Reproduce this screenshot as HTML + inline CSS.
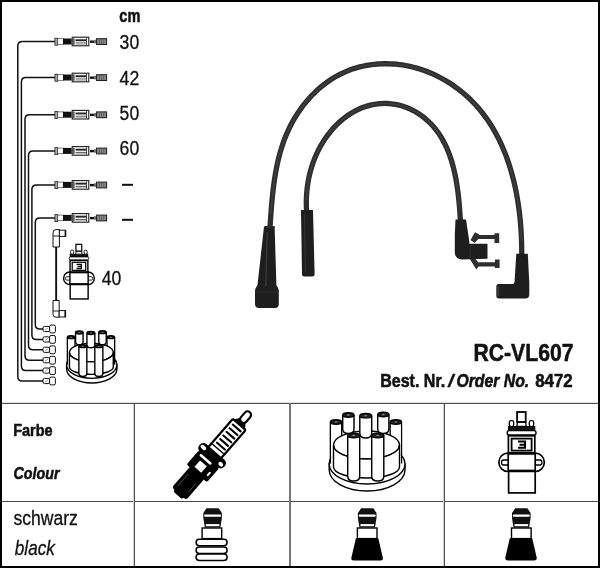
<!DOCTYPE html>
<html><head><meta charset="utf-8"><style>
html,body{margin:0;padding:0;background:#fff;width:600px;height:568px;overflow:hidden}
text{font-family:"Liberation Sans",sans-serif}
</style></head><body>
<svg width="600" height="568" viewBox="0 0 600 568" style="display:block;will-change:transform;font-family:'Liberation Sans', sans-serif"><rect x="0" y="0" width="600" height="568" fill="#fff"/>
<rect x="1" y="1" width="598" height="566" fill="none" stroke="#000" stroke-width="2"/>
<rect x="2" y="402" width="596" height="1" fill="#e0e0e0"/>
<rect x="2" y="403" width="596" height="1" fill="#4d4d4d"/>
<rect x="2" y="501" width="596" height="1" fill="#4a4a4a"/>
<rect x="133" y="404" width="1" height="162" fill="#d0d0d0"/>
<rect x="134" y="403" width="1" height="163" fill="#505050"/>
<rect x="289" y="403" width="2" height="163" fill="#777"/>
<rect x="443" y="404" width="1" height="162" fill="#d0d0d0"/>
<rect x="444" y="403" width="1" height="163" fill="#505050"/>
<text x="119.30" y="22.00" font-size="17.50" font-weight="bold" font-style="normal" fill="#111" textLength="21.00" lengthAdjust="spacingAndGlyphs" stroke="#111" stroke-width="0.55" stroke-linejoin="round" >cm</text>
<text x="119.60" y="49.00" font-size="20.00" font-weight="normal" font-style="normal" fill="#111" textLength="19.60" lengthAdjust="spacingAndGlyphs" stroke="#111" stroke-width="0.30" stroke-linejoin="round" >30</text>
<text x="119.60" y="84.60" font-size="20.00" font-weight="normal" font-style="normal" fill="#111" textLength="19.60" lengthAdjust="spacingAndGlyphs" stroke="#111" stroke-width="0.30" stroke-linejoin="round" >42</text>
<text x="119.60" y="120.00" font-size="20.00" font-weight="normal" font-style="normal" fill="#111" textLength="19.60" lengthAdjust="spacingAndGlyphs" stroke="#111" stroke-width="0.30" stroke-linejoin="round" >50</text>
<text x="119.60" y="155.00" font-size="20.00" font-weight="normal" font-style="normal" fill="#111" textLength="19.60" lengthAdjust="spacingAndGlyphs" stroke="#111" stroke-width="0.30" stroke-linejoin="round" >60</text>
<text x="101.70" y="285.20" font-size="20.00" font-weight="normal" font-style="normal" fill="#111" textLength="19.60" lengthAdjust="spacingAndGlyphs" stroke="#111" stroke-width="0.30" stroke-linejoin="round" >40</text>
<rect x="122" y="183.8" width="11" height="2" fill="#111"/>
<rect x="122" y="218.8" width="11" height="2" fill="#111"/>
<text x="473.50" y="360.70" font-size="24.30" font-weight="bold" font-style="normal" fill="#111" textLength="100.00" lengthAdjust="spacingAndGlyphs" stroke="#111" stroke-width="0.55" stroke-linejoin="round" >RC-VL607</text>
<text x="380.20" y="386.70" font-size="17.70" font-weight="bold" font-style="normal" fill="#111" textLength="65.00" lengthAdjust="spacingAndGlyphs" stroke="#111" stroke-width="0.55" stroke-linejoin="round" >Best. Nr.</text>
<text x="448.20" y="387.20" font-size="19.00" font-weight="bold" font-style="italic" fill="#111" stroke="#111" stroke-width="0.55" stroke-linejoin="round" >/</text>
<text x="456.40" y="386.70" font-size="17.70" font-weight="bold" font-style="italic" fill="#111" textLength="72.80" lengthAdjust="spacingAndGlyphs" stroke="#111" stroke-width="0.55" stroke-linejoin="round" >Order No.</text>
<text x="535.20" y="386.70" font-size="17.70" font-weight="bold" font-style="normal" fill="#111" textLength="37.50" lengthAdjust="spacingAndGlyphs" stroke="#111" stroke-width="0.55" stroke-linejoin="round" >8472</text>
<text x="13.20" y="435.50" font-size="16.70" font-weight="bold" font-style="normal" fill="#111" textLength="39.50" lengthAdjust="spacingAndGlyphs" stroke="#111" stroke-width="0.55" stroke-linejoin="round" >Farbe</text>
<text x="13.50" y="479.30" font-size="16.70" font-weight="bold" font-style="italic" fill="#111" textLength="46.00" lengthAdjust="spacingAndGlyphs" stroke="#111" stroke-width="0.55" stroke-linejoin="round" >Colour</text>
<text x="13.40" y="524.60" font-size="20.00" font-weight="normal" font-style="normal" fill="#111" textLength="64.50" lengthAdjust="spacingAndGlyphs" stroke="#111" stroke-width="0.30" stroke-linejoin="round" >schwarz</text>
<text x="14.80" y="554.60" font-size="20.00" font-weight="normal" font-style="italic" fill="#111" textLength="40.00" lengthAdjust="spacingAndGlyphs" stroke="#111" stroke-width="0.30" stroke-linejoin="round" >black</text>
<path d="M 269.95 227.70 L 270.15 224.78 L 270.35 221.84 L 270.56 218.88 L 270.77 215.91 L 270.99 212.91 L 271.22 209.91 L 271.46 206.89 L 271.72 203.86 L 271.99 200.82 L 272.28 197.77 L 272.59 194.71 L 272.92 191.66 L 273.28 188.59 L 273.67 185.53 L 274.08 182.46 L 274.52 179.40 L 275.00 176.34 L 275.51 173.28 L 276.06 170.23 L 276.65 167.19 L 277.28 164.16 L 277.95 161.14 L 278.67 158.13 L 279.44 155.13 L 280.26 152.15 L 281.13 149.19 L 282.05 146.24 L 283.03 143.32 L 284.06 140.41 L 285.16 137.53 L 286.32 134.68 L 287.54 131.85 L 288.83 129.05 L 290.18 126.28 L 291.60 123.55 L 293.08 120.84 L 294.62 118.18 L 296.22 115.55 L 297.89 112.96 L 299.61 110.42 L 301.39 107.92 L 303.23 105.47 L 305.13 103.07 L 307.08 100.72 L 309.09 98.42 L 311.16 96.18 L 313.27 94.00 L 315.44 91.87 L 317.67 89.81 L 319.94 87.81 L 322.27 85.88 L 324.64 84.02 L 327.06 82.22 L 329.53 80.50 L 332.05 78.85 L 334.62 77.28 L 337.23 75.79 L 339.88 74.38 L 342.58 73.05 L 345.32 71.81 L 348.10 70.65 L 350.93 69.58 L 353.79 68.61 L 356.69 67.72 L 359.62 66.92 L 362.59 66.22 L 365.58 65.60 L 368.59 65.07 L 371.63 64.62 L 374.68 64.27 L 377.75 64.00 L 380.83 63.83 L 383.92 63.73 L 387.01 63.73 L 390.11 63.81 L 393.20 63.98 L 396.29 64.23 L 399.37 64.57 L 402.45 64.99 L 405.50 65.50 L 408.55 66.09 L 411.57 66.77 L 414.57 67.52 L 417.56 68.36 L 420.51 69.27 L 423.45 70.26 L 426.36 71.33 L 429.24 72.47 L 432.09 73.68 L 434.91 74.96 L 437.70 76.31 L 440.45 77.73 L 443.17 79.22 L 445.85 80.76 L 448.49 82.37 L 451.09 84.04 L 453.65 85.77 L 456.17 87.56 L 458.64 89.41 L 461.07 91.31 L 463.44 93.26 L 465.77 95.26 L 468.05 97.32 L 470.27 99.42 L 472.44 101.57 L 474.55 103.77 L 476.61 106.00 L 478.61 108.29 L 480.56 110.61 L 482.45 112.97 L 484.29 115.38 L 486.08 117.82 L 487.81 120.30 L 489.49 122.81 L 491.12 125.36 L 492.70 127.95 L 494.23 130.56 L 495.72 133.21 L 497.15 135.89 L 498.53 138.60 L 499.87 141.33 L 501.16 144.10 L 502.41 146.88 L 503.61 149.70 L 504.76 152.53 L 505.87 155.39 L 506.94 158.27 L 507.96 161.17 L 508.94 164.09 L 509.88 167.03 L 510.78 169.98 L 511.64 172.95 L 512.45 175.93 L 513.23 178.93 L 513.97 181.94 L 514.67 184.96 L 515.34 187.99 L 515.96 191.02 L 516.56 194.07 L 517.11 197.12 L 517.63 200.18 L 518.12 203.24 L 518.57 206.30 L 518.99 209.37 L 519.38 212.44 L 519.73 215.50 L 520.05 218.57 L 520.35 221.63 L 520.61 224.69 L 520.84 227.74 L 521.05 230.79 L 521.22 233.83 L 521.37 236.86 L 521.49 239.88 L 521.59 242.89 L 521.66 245.89 L 521.71 248.88 L 521.73 251.85 L 521.72 254.81" fill="none" stroke="#2d2d2d" stroke-width="5.3" stroke-linecap="round"/>
<path d="M 306.65 211.87 L 306.53 209.98 L 306.43 208.09 L 306.37 206.19 L 306.33 204.29 L 306.32 202.39 L 306.34 200.49 L 306.39 198.58 L 306.47 196.68 L 306.58 194.77 L 306.71 192.87 L 306.88 190.97 L 307.08 189.06 L 307.30 187.16 L 307.56 185.27 L 307.84 183.37 L 308.16 181.48 L 308.50 179.60 L 308.88 177.72 L 309.28 175.84 L 309.72 173.97 L 310.19 172.11 L 310.69 170.26 L 311.22 168.41 L 311.78 166.57 L 312.37 164.74 L 312.99 162.92 L 313.65 161.12 L 314.33 159.32 L 315.05 157.53 L 315.80 155.76 L 316.58 154.00 L 317.40 152.25 L 318.24 150.51 L 319.12 148.79 L 320.03 147.09 L 320.98 145.40 L 321.96 143.73 L 322.96 142.07 L 324.01 140.43 L 325.08 138.81 L 326.19 137.21 L 327.33 135.63 L 328.51 134.07 L 329.71 132.53 L 330.94 131.02 L 332.21 129.54 L 333.51 128.08 L 334.83 126.65 L 336.19 125.25 L 337.57 123.88 L 338.98 122.55 L 340.42 121.24 L 341.88 119.98 L 343.38 118.75 L 344.90 117.56 L 346.44 116.41 L 348.01 115.30 L 349.61 114.23 L 351.23 113.20 L 352.87 112.22 L 354.54 111.29 L 356.23 110.40 L 357.95 109.56 L 359.69 108.77 L 361.44 108.04 L 363.23 107.35 L 365.03 106.73 L 366.84 106.15 L 368.68 105.63 L 370.53 105.16 L 372.39 104.75 L 374.26 104.40 L 376.15 104.10 L 378.04 103.86 L 379.93 103.67 L 381.83 103.54 L 383.73 103.47 L 385.63 103.46 L 387.52 103.51 L 389.42 103.62 L 391.30 103.78 L 393.18 104.01 L 395.05 104.30 L 396.91 104.65 L 398.75 105.06 L 400.58 105.52 L 402.40 106.05 L 404.20 106.64 L 405.98 107.28 L 407.74 107.97 L 409.48 108.72 L 411.20 109.52 L 412.90 110.38 L 414.58 111.28 L 416.23 112.23 L 417.85 113.23 L 419.45 114.27 L 421.02 115.36 L 422.56 116.49 L 424.08 117.67 L 425.56 118.88 L 427.01 120.14 L 428.42 121.43 L 429.80 122.76 L 431.15 124.13 L 432.46 125.53 L 433.73 126.96 L 434.96 128.43 L 436.15 129.93 L 437.31 131.46 L 438.42 133.01 L 439.50 134.60 L 440.54 136.21 L 441.54 137.85 L 442.50 139.51 L 443.43 141.19 L 444.33 142.90 L 445.19 144.63 L 446.02 146.38 L 446.82 148.15 L 447.59 149.94 L 448.32 151.75 L 449.03 153.57 L 449.70 155.41 L 450.35 157.26 L 450.97 159.13 L 451.56 161.01 L 452.12 162.90 L 452.66 164.80 L 453.18 166.71 L 453.67 168.63 L 454.13 170.56 L 454.58 172.49 L 455.00 174.43 L 455.40 176.37 L 455.78 178.31 L 456.14 180.26 L 456.48 182.21 L 456.80 184.16 L 457.10 186.11 L 457.39 188.06 L 457.66 190.00 L 457.91 191.94 L 458.15 193.88 L 458.38 195.81 L 458.59 197.73 L 458.79 199.64 L 458.98 201.55 L 459.15 203.45 L 459.32 205.33 L 459.48 207.20 L 459.62 209.06 L 459.76 210.91 L 459.89 212.74 L 460.02 214.56 L 460.14 216.35 L 460.25 218.13 L 460.36 219.89 L 460.46 221.63" fill="none" stroke="#2d2d2d" stroke-width="5.3" stroke-linecap="round"/>
<path d="M 270.94 213.60 L 271.15 210.78 L 271.37 207.95 L 271.61 205.10 L 271.86 202.25 L 272.12 199.39 L 272.40 196.52 L 272.70 193.64 L 273.02 190.77 L 273.37 187.89 L 273.73 185.01 L 274.13 182.13 L 274.55 179.25 L 275.00 176.37 L 275.48 173.50 L 275.99 170.63 L 276.54 167.77 L 277.12 164.92 L 277.74 162.07 L 278.40 159.24 L 279.10 156.42 L 279.85 153.61 L 280.64 150.81 L 281.48 148.04 L 282.36 145.27 L 283.30 142.53 L 284.29 139.81 L 285.33 137.10 L 286.42 134.42 L 287.58 131.77 L 288.79 129.14 L 290.06 126.53 L 291.38 123.95 L 292.76 121.41 L 294.20 118.89 L 295.69 116.41 L 297.23 113.97 L 298.83 111.56 L 300.48 109.19 L 302.18 106.86 L 303.93 104.58 L 305.73 102.34 L 307.58 100.14 L 309.48 97.99 L 311.43 95.89 L 313.42 93.85 L 315.47 91.85 L 317.55 89.91 L 319.69 88.03 L 321.87 86.20 L 324.09 84.44 L 326.35 82.73 L 328.66 81.09 L 331.01 79.52 L 333.40 78.01 L 335.84 76.57 L 338.31 75.20 L 340.82 73.91 L 343.37 72.68 L 345.96 71.53 L 348.58 70.46 L 351.24 69.47 L 353.93 68.56 L 356.66 67.73 L 359.42 66.98 L 362.20 66.30 L 365.01 65.71 L 367.84 65.19 L 370.69 64.75 L 373.55 64.39 L 376.43 64.11 L 379.32 63.90 L 382.22 63.77 L 385.12 63.72 L 388.03 63.75 L 390.94 63.85 L 393.85 64.02 L 396.75 64.27 L 399.65 64.60 L 402.54 65.00 L 405.41 65.48 L 408.27 66.03 L 411.12 66.66 L 413.94 67.36 L 416.75 68.12 L 419.54 68.96 L 422.31 69.87 L 425.05 70.84 L 427.77 71.88 L 430.47 72.98 L 433.14 74.15 L 435.78 75.37 L 438.39 76.66 L 440.97 78.01 L 443.52 79.41 L 446.04 80.87 L 448.52 82.39 L 450.96 83.96 L 453.37 85.58 L 455.75 87.26 L 458.08 88.98 L 460.37 90.75 L 462.62 92.57 L 464.82 94.44 L 466.98 96.35 L 469.10 98.30 L 471.17 100.30 L 473.19 102.33 L 475.16 104.41 L 477.08 106.53 L 478.95 108.68 L 480.77 110.87 L 482.54 113.09 L 484.27 115.35 L 485.95 117.65 L 487.59 119.97 L 489.18 122.33 L 490.72 124.72 L 492.22 127.14 L 493.67 129.59 L 495.09 132.07 L 496.45 134.57 L 497.78 137.11 L 499.06 139.66 L 500.30 142.24 L 501.50 144.85 L 502.66 147.47 L 503.78 150.12 L 504.86 152.79 L 505.90 155.48 L 506.91 158.18 L 507.87 160.91 L 508.80 163.65 L 509.69 166.41 L 510.54 169.18 L 511.36 171.97 L 512.14 174.77 L 512.89 177.58 L 513.60 180.40 L 514.28 183.23 L 514.92 186.08 L 515.54 188.93 L 516.12 191.79 L 516.66 194.65 L 517.18 197.52 L 517.67 200.39 L 518.12 203.27 L 518.55 206.15 L 518.94 209.03 L 519.31 211.92 L 519.65 214.80 L 519.96 217.68 L 520.25 220.56 L 520.51 223.44 L 520.74 226.31 L 520.94 229.17 L 521.12 232.04 L 521.28 234.89 L 521.41 237.74 L 521.52 240.57" fill="none" stroke="#3e3e3e" stroke-width="1.6" stroke-linecap="round"/>
<path d="M 306.36 199.80 L 306.41 198.05 L 306.49 196.30 L 306.59 194.55 L 306.72 192.79 L 306.87 191.04 L 307.05 189.29 L 307.25 187.54 L 307.48 185.80 L 307.74 184.05 L 308.01 182.31 L 308.32 180.58 L 308.65 178.84 L 309.01 177.11 L 309.39 175.39 L 309.79 173.67 L 310.23 171.96 L 310.69 170.26 L 311.17 168.56 L 311.69 166.86 L 312.22 165.18 L 312.79 163.50 L 313.38 161.84 L 314.00 160.18 L 314.65 158.53 L 315.32 156.89 L 316.02 155.26 L 316.74 153.65 L 317.50 152.04 L 318.28 150.44 L 319.09 148.86 L 319.92 147.29 L 320.79 145.74 L 321.68 144.19 L 322.60 142.66 L 323.54 141.15 L 324.52 139.65 L 325.52 138.17 L 326.55 136.70 L 327.61 135.25 L 328.70 133.82 L 329.81 132.41 L 330.94 131.02 L 332.11 129.65 L 333.30 128.31 L 334.51 126.99 L 335.75 125.69 L 337.01 124.42 L 338.30 123.18 L 339.61 121.97 L 340.94 120.78 L 342.30 119.63 L 343.68 118.51 L 345.08 117.42 L 346.50 116.36 L 347.95 115.34 L 349.42 114.35 L 350.90 113.40 L 352.41 112.49 L 353.94 111.62 L 355.49 110.78 L 357.05 109.99 L 358.64 109.24 L 360.25 108.53 L 361.87 107.87 L 363.51 107.25 L 365.17 106.68 L 366.84 106.15 L 368.53 105.67 L 370.23 105.23 L 371.94 104.85 L 373.66 104.50 L 375.39 104.21 L 377.13 103.97 L 378.87 103.77 L 380.61 103.62 L 382.36 103.52 L 384.11 103.47 L 385.85 103.47 L 387.60 103.51 L 389.34 103.61 L 391.08 103.76 L 392.81 103.96 L 394.53 104.21 L 396.24 104.51 L 397.94 104.87 L 399.63 105.27 L 401.31 105.73 L 402.98 106.23 L 404.63 106.79 L 406.26 107.38 L 407.88 108.03 L 409.48 108.72 L 411.07 109.46 L 412.63 110.24 L 414.18 111.06 L 415.70 111.92 L 417.20 112.82 L 418.69 113.76 L 420.15 114.74 L 421.58 115.76 L 422.99 116.82 L 424.37 117.91 L 425.73 119.03 L 427.06 120.19 L 428.37 121.38 L 429.64 122.60 L 430.88 123.85 L 432.09 125.13 L 433.28 126.44 L 434.42 127.78 L 435.54 129.15 L 436.62 130.54 L 437.67 131.95 L 438.68 133.39 L 439.67 134.85 L 440.62 136.34 L 441.54 137.85 L 442.43 139.37 L 443.29 140.92 L 444.12 142.49 L 444.92 144.08 L 445.70 145.68 L 446.44 147.30 L 447.16 148.94 L 447.85 150.59 L 448.52 152.26 L 449.16 153.94 L 449.78 155.63 L 450.37 157.34 L 450.94 159.05 L 451.49 160.78 L 452.01 162.52 L 452.51 164.27 L 452.99 166.02 L 453.45 167.78 L 453.89 169.55 L 454.31 171.33 L 454.71 173.11 L 455.10 174.89 L 455.46 176.68 L 455.81 178.47 L 456.14 180.26 L 456.45 182.06 L 456.75 183.85 L 457.03 185.64 L 457.30 187.43 L 457.55 189.22 L 457.79 191.01 L 458.02 192.79 L 458.24 194.57 L 458.44 196.35 L 458.63 198.11 L 458.81 199.87 L 458.99 201.63 L 459.15 203.37 L 459.30 205.11 L 459.45 206.83 L 459.58 208.54 L 459.71 210.25" fill="none" stroke="#3e3e3e" stroke-width="1.6" stroke-linecap="round"/>
<path d="M 264 226.5 L 274.6 226.5 L 276.4 285 C 277.5 287 278.8 288.5 278.8 291 L 278.8 304 Q 278.8 308 275 308 L 259 308 Q 255 308 255 304 L 255 291 C 255 288.5 256.5 287 257.5 285 Z" fill="#1e1e1e"/>
<path d="M 267.2 232 L 265.8 286" stroke="#3c3c3c" stroke-width="1.2" fill="none"/>
<rect x="264.5" y="226" width="10" height="2" fill="#2a2a2a"/>
<path d="M 255.5 292 L 278.3 292" stroke="#333" stroke-width="0.8" fill="none"/>
<path d="M 301 210 L 313 210 L 314.6 274 Q 314.6 276.5 312 276.5 L 304.5 276.5 Q 302 276.5 302 274 Z" fill="#1e1e1e"/>
<path d="M 304.5 214 L 305.3 272" stroke="#333" stroke-width="1" fill="none"/>
<path d="M 470.5 240 L 475 232.2 L 478.8 234.2 L 478.8 235 L 494.5 235 L 494.5 233.3 L 499.2 233.3 L 499.2 243 L 494.5 243 L 494.5 239 L 478.5 239 L 474.5 243 Z" fill="#2e2e2e"/>
<path d="M 469.5 258.5 L 476.4 269.6 L 478.5 266.4 L 494.9 266.4 L 494.9 268 L 499.6 268 L 499.6 259.4 L 494.9 259.4 L 494.9 262.2 L 478 262.2 L 474.5 257.5 Z" fill="#2e2e2e"/>
<path d="M 455.5 219.6 L 466 219.6 L 468.8 238 L 469.5 243.8 L 487.5 243.8 L 487.5 258.8 L 462 259.4 Q 454.8 259.4 454.8 252 L 454.8 235 Z" fill="#1e1e1e"/>
<path d="M 470.2 245 L 470.2 258" stroke="#333" stroke-width="0.8" fill="none"/>
<path d="M 516.3 253.7 L 527.8 253.7 L 529.3 283 L 529.3 294.5 Q 529.3 298.4 525.5 298.4 L 498.5 298.4 Q 496.3 298.4 496.3 296 L 496.3 286.5 Q 496.3 284.1 498.5 284.1 L 512 284.1 Q 514.6 284.1 514.6 281 Z" fill="#1e1e1e"/>
<rect x="497.2" y="286" width="2" height="10.5" rx="1" fill="#3a3a3a"/>
<path d="M 55 41.60 H 22.30 Q 17.80 41.60 17.80 46.10 V 376.50 Q 17.80 381.00 22.30 381.00 H 43" fill="none" stroke="#111" stroke-width="1.5"/>
<path d="M 55 77.60 H 25.90 Q 21.40 77.60 21.40 82.10 V 366.10 Q 21.40 370.60 25.90 370.60 H 43" fill="none" stroke="#111" stroke-width="1.5"/>
<path d="M 55 114.80 H 29.50 Q 25.00 114.80 25.00 119.30 V 355.70 Q 25.00 360.20 29.50 360.20 H 43" fill="none" stroke="#111" stroke-width="1.5"/>
<path d="M 55 151.00 H 33.00 Q 28.50 151.00 28.50 155.50 V 345.30 Q 28.50 349.80 33.00 349.80 H 43" fill="none" stroke="#111" stroke-width="1.5"/>
<path d="M 55 185.00 H 36.40 Q 31.90 185.00 31.90 189.50 V 334.90 Q 31.90 339.40 36.40 339.40 H 43" fill="none" stroke="#111" stroke-width="1.5"/>
<path d="M 55 218.00 H 39.80 Q 35.30 218.00 35.30 222.50 V 324.50 Q 35.30 329.00 39.80 329.00 H 43" fill="none" stroke="#111" stroke-width="1.5"/>
<rect x="54.9" y="38.20" width="2.8" height="7" fill="#aaa" stroke="#222" stroke-width="0.8"/><rect x="57.7" y="38.70" width="5.6" height="5.6" fill="#fff" stroke="#444" stroke-width="0.7"/><rect x="63" y="38.50" width="8.6" height="6" fill="#111"/><rect x="72.2" y="37.20" width="16.6" height="8.6" fill="#fff" stroke="#1a1a1a" stroke-width="1.1"/><rect x="75.5" y="39.30" width="10.5" height="1.9" fill="#222"/><rect x="75.5" y="42.50" width="10.5" height="0.9" fill="#444"/><rect x="75.5" y="44.00" width="10.5" height="0.6" fill="#999"/><rect x="73.2" y="38.30" width="1.3" height="6.6" fill="#333"/><rect x="86.1" y="37.90" width="0.9" height="7.4" fill="#333"/><rect x="90" y="40.50" width="4.2" height="2.4" fill="#111"/><rect x="94.2" y="39.80" width="2.2" height="3.6" fill="#666"/><rect x="96.6" y="38.70" width="10" height="5.8" fill="#888" stroke="#1a1a1a" stroke-width="1"/><rect x="99.0" y="39.10" width="0.8" height="5" fill="#555"/><rect x="101.2" y="39.10" width="0.8" height="5" fill="#555"/><rect x="103.4" y="39.10" width="0.8" height="5" fill="#555"/>
<rect x="54.9" y="74.20" width="2.8" height="7" fill="#aaa" stroke="#222" stroke-width="0.8"/><rect x="57.7" y="74.70" width="5.6" height="5.6" fill="#fff" stroke="#444" stroke-width="0.7"/><rect x="63" y="74.50" width="8.6" height="6" fill="#111"/><rect x="72.2" y="73.20" width="16.6" height="8.6" fill="#fff" stroke="#1a1a1a" stroke-width="1.1"/><rect x="75.5" y="75.30" width="10.5" height="1.9" fill="#222"/><rect x="75.5" y="78.50" width="10.5" height="0.9" fill="#444"/><rect x="75.5" y="80.00" width="10.5" height="0.6" fill="#999"/><rect x="73.2" y="74.30" width="1.3" height="6.6" fill="#333"/><rect x="86.1" y="73.90" width="0.9" height="7.4" fill="#333"/><rect x="90" y="76.50" width="4.2" height="2.4" fill="#111"/><rect x="94.2" y="75.80" width="2.2" height="3.6" fill="#666"/><rect x="96.6" y="74.70" width="10" height="5.8" fill="#888" stroke="#1a1a1a" stroke-width="1"/><rect x="99.0" y="75.10" width="0.8" height="5" fill="#555"/><rect x="101.2" y="75.10" width="0.8" height="5" fill="#555"/><rect x="103.4" y="75.10" width="0.8" height="5" fill="#555"/>
<rect x="54.9" y="111.40" width="2.8" height="7" fill="#aaa" stroke="#222" stroke-width="0.8"/><rect x="57.7" y="111.90" width="5.6" height="5.6" fill="#fff" stroke="#444" stroke-width="0.7"/><rect x="63" y="111.70" width="8.6" height="6" fill="#111"/><rect x="72.2" y="110.40" width="16.6" height="8.6" fill="#fff" stroke="#1a1a1a" stroke-width="1.1"/><rect x="75.5" y="112.50" width="10.5" height="1.9" fill="#222"/><rect x="75.5" y="115.70" width="10.5" height="0.9" fill="#444"/><rect x="75.5" y="117.20" width="10.5" height="0.6" fill="#999"/><rect x="73.2" y="111.50" width="1.3" height="6.6" fill="#333"/><rect x="86.1" y="111.10" width="0.9" height="7.4" fill="#333"/><rect x="90" y="113.70" width="4.2" height="2.4" fill="#111"/><rect x="94.2" y="113.00" width="2.2" height="3.6" fill="#666"/><rect x="96.6" y="111.90" width="10" height="5.8" fill="#888" stroke="#1a1a1a" stroke-width="1"/><rect x="99.0" y="112.30" width="0.8" height="5" fill="#555"/><rect x="101.2" y="112.30" width="0.8" height="5" fill="#555"/><rect x="103.4" y="112.30" width="0.8" height="5" fill="#555"/>
<rect x="54.9" y="147.60" width="2.8" height="7" fill="#aaa" stroke="#222" stroke-width="0.8"/><rect x="57.7" y="148.10" width="5.6" height="5.6" fill="#fff" stroke="#444" stroke-width="0.7"/><rect x="63" y="147.90" width="8.6" height="6" fill="#111"/><rect x="72.2" y="146.60" width="16.6" height="8.6" fill="#fff" stroke="#1a1a1a" stroke-width="1.1"/><rect x="75.5" y="148.70" width="10.5" height="1.9" fill="#222"/><rect x="75.5" y="151.90" width="10.5" height="0.9" fill="#444"/><rect x="75.5" y="153.40" width="10.5" height="0.6" fill="#999"/><rect x="73.2" y="147.70" width="1.3" height="6.6" fill="#333"/><rect x="86.1" y="147.30" width="0.9" height="7.4" fill="#333"/><rect x="90" y="149.90" width="4.2" height="2.4" fill="#111"/><rect x="94.2" y="149.20" width="2.2" height="3.6" fill="#666"/><rect x="96.6" y="148.10" width="10" height="5.8" fill="#888" stroke="#1a1a1a" stroke-width="1"/><rect x="99.0" y="148.50" width="0.8" height="5" fill="#555"/><rect x="101.2" y="148.50" width="0.8" height="5" fill="#555"/><rect x="103.4" y="148.50" width="0.8" height="5" fill="#555"/>
<rect x="54.9" y="181.60" width="2.8" height="7" fill="#aaa" stroke="#222" stroke-width="0.8"/><rect x="57.7" y="182.10" width="5.6" height="5.6" fill="#fff" stroke="#444" stroke-width="0.7"/><rect x="63" y="181.90" width="8.6" height="6" fill="#111"/><rect x="72.2" y="180.60" width="16.6" height="8.6" fill="#fff" stroke="#1a1a1a" stroke-width="1.1"/><rect x="75.5" y="182.70" width="10.5" height="1.9" fill="#222"/><rect x="75.5" y="185.90" width="10.5" height="0.9" fill="#444"/><rect x="75.5" y="187.40" width="10.5" height="0.6" fill="#999"/><rect x="73.2" y="181.70" width="1.3" height="6.6" fill="#333"/><rect x="86.1" y="181.30" width="0.9" height="7.4" fill="#333"/><rect x="90" y="183.90" width="4.2" height="2.4" fill="#111"/><rect x="94.2" y="183.20" width="2.2" height="3.6" fill="#666"/><rect x="96.6" y="182.10" width="10" height="5.8" fill="#888" stroke="#1a1a1a" stroke-width="1"/><rect x="99.0" y="182.50" width="0.8" height="5" fill="#555"/><rect x="101.2" y="182.50" width="0.8" height="5" fill="#555"/><rect x="103.4" y="182.50" width="0.8" height="5" fill="#555"/>
<rect x="54.9" y="214.60" width="2.8" height="7" fill="#aaa" stroke="#222" stroke-width="0.8"/><rect x="57.7" y="215.10" width="5.6" height="5.6" fill="#fff" stroke="#444" stroke-width="0.7"/><rect x="63" y="214.90" width="8.6" height="6" fill="#111"/><rect x="72.2" y="213.60" width="16.6" height="8.6" fill="#fff" stroke="#1a1a1a" stroke-width="1.1"/><rect x="75.5" y="215.70" width="10.5" height="1.9" fill="#222"/><rect x="75.5" y="218.90" width="10.5" height="0.9" fill="#444"/><rect x="75.5" y="220.40" width="10.5" height="0.6" fill="#999"/><rect x="73.2" y="214.70" width="1.3" height="6.6" fill="#333"/><rect x="86.1" y="214.30" width="0.9" height="7.4" fill="#333"/><rect x="90" y="216.90" width="4.2" height="2.4" fill="#111"/><rect x="94.2" y="216.20" width="2.2" height="3.6" fill="#666"/><rect x="96.6" y="215.10" width="10" height="5.8" fill="#888" stroke="#1a1a1a" stroke-width="1"/><rect x="99.0" y="215.50" width="0.8" height="5" fill="#555"/><rect x="101.2" y="215.50" width="0.8" height="5" fill="#555"/><rect x="103.4" y="215.50" width="0.8" height="5" fill="#555"/>
<rect x="43" y="378.40" width="6.6" height="5.2" rx="1.5" fill="#fff" stroke="#111" stroke-width="1"/><rect x="49.6" y="377.10" width="5.8" height="7.8" rx="1.5" fill="#fff" stroke="#111" stroke-width="1"/><path d="M 45 382.00 L 48 380.00" stroke="#666" stroke-width="0.6"/>
<rect x="43" y="368.00" width="6.6" height="5.2" rx="1.5" fill="#fff" stroke="#111" stroke-width="1"/><rect x="49.6" y="366.70" width="5.8" height="7.8" rx="1.5" fill="#fff" stroke="#111" stroke-width="1"/><path d="M 45 371.60 L 48 369.60" stroke="#666" stroke-width="0.6"/>
<rect x="43" y="357.60" width="6.6" height="5.2" rx="1.5" fill="#fff" stroke="#111" stroke-width="1"/><rect x="49.6" y="356.30" width="5.8" height="7.8" rx="1.5" fill="#fff" stroke="#111" stroke-width="1"/><path d="M 45 361.20 L 48 359.20" stroke="#666" stroke-width="0.6"/>
<rect x="43" y="347.20" width="6.6" height="5.2" rx="1.5" fill="#fff" stroke="#111" stroke-width="1"/><rect x="49.6" y="345.90" width="5.8" height="7.8" rx="1.5" fill="#fff" stroke="#111" stroke-width="1"/><path d="M 45 350.80 L 48 348.80" stroke="#666" stroke-width="0.6"/>
<rect x="43" y="336.80" width="6.6" height="5.2" rx="1.5" fill="#fff" stroke="#111" stroke-width="1"/><rect x="49.6" y="335.50" width="5.8" height="7.8" rx="1.5" fill="#fff" stroke="#111" stroke-width="1"/><path d="M 45 340.40 L 48 338.40" stroke="#666" stroke-width="0.6"/>
<rect x="43" y="326.40" width="6.6" height="5.2" rx="1.5" fill="#fff" stroke="#111" stroke-width="1"/><rect x="49.6" y="325.10" width="5.8" height="7.8" rx="1.5" fill="#fff" stroke="#111" stroke-width="1"/><path d="M 45 330.00 L 48 328.00" stroke="#666" stroke-width="0.6"/>
<rect x="55.2" y="246" width="1.9" height="55" fill="#111"/>
<path d="M 53 247 L 53 233 Q 53 229.6 56 229.6 L 59.4 229.6 L 59.4 247 Z" fill="#fff" stroke="#111" stroke-width="1"/>
<path d="M 53 236 L 59 236" stroke="#111" stroke-width="0.9"/>
<rect x="59.4" y="230.2" width="6.2" height="6.2" fill="#fff" stroke="#111" stroke-width="1"/>
<rect x="64.6" y="230.2" width="1.6" height="6.2" fill="#111"/>
<path d="M 53 300.5 L 53 314.5 Q 53 317.2 56 317.2 L 59.2 317.2 L 59.2 300.5 Z" fill="#fff" stroke="#111" stroke-width="1"/>
<path d="M 53 311 L 59 311" stroke="#111" stroke-width="0.9"/>
<rect x="59.2" y="310.6" width="6.4" height="6.4" fill="#fff" stroke="#111" stroke-width="1"/>
<rect x="64.4" y="310.6" width="1.6" height="6.4" fill="#111"/>
<rect x="508.6" y="470.5" width="26.6" height="22.4" fill="#fff" stroke="#000" stroke-width="1.7"/><rect x="498.9" y="453.1" width="45.4" height="18.4" rx="9" fill="#fff" stroke="#000" stroke-width="1.7"/><path d="M 508.2 460 H 503.5 Q 501.5 460 501.5 462.5 Q 501.5 465 503.5 465 H 508.2" fill="none" stroke="#000" stroke-width="1.3"/><path d="M 535.2 460 H 540 Q 542 460 542 462.5 Q 542 465 540 465 H 535.2" fill="none" stroke="#000" stroke-width="1.3"/><rect x="508.2" y="453.9" width="27" height="16.6" fill="#fff" stroke="#000" stroke-width="1.7"/><rect x="508.4" y="435.8" width="26.4" height="17" fill="#fff" stroke="#000" stroke-width="1.7"/><rect x="511.6" y="438.6" width="20" height="12" fill="#fff" stroke="#000" stroke-width="1.8"/><path d="M 518 441.6 H 525 V 447.8 H 518 M 519.5 444.7 H 525" fill="none" stroke="#000" stroke-width="2"/><rect x="507.9" y="426" width="27.4" height="5" fill="#111"/><rect x="507.2" y="430.6" width="28.8" height="4.4" rx="2" fill="#fff" stroke="#000" stroke-width="1.4"/><rect x="509.3" y="420.6" width="4.4" height="6" rx="1.8" fill="#fff" stroke="#000" stroke-width="1.3"/><rect x="529.3" y="420.6" width="4.4" height="6" rx="1.8" fill="#fff" stroke="#000" stroke-width="1.3"/><path d="M 516.8 426.5 L 517.5 422 L 525.5 422 L 526.2 426.5 Z" fill="#fff" stroke="#000" stroke-width="1.3"/><rect x="517.1" y="412" width="8.6" height="10" fill="#fff" stroke="#000" stroke-width="1.8"/>
<g transform="translate(63.5,243.8) scale(0.675) translate(-498.7,-411.2)"><rect x="508.6" y="470.5" width="26.6" height="22.4" fill="#fff" stroke="#000" stroke-width="2.1"/><rect x="498.9" y="453.1" width="45.4" height="18.4" rx="9" fill="#fff" stroke="#000" stroke-width="2.1"/><path d="M 508.2 460 H 503.5 Q 501.5 460 501.5 462.5 Q 501.5 465 503.5 465 H 508.2" fill="none" stroke="#000" stroke-width="1.3"/><path d="M 535.2 460 H 540 Q 542 460 542 462.5 Q 542 465 540 465 H 535.2" fill="none" stroke="#000" stroke-width="1.3"/><rect x="508.2" y="453.9" width="27" height="16.6" fill="#fff" stroke="#000" stroke-width="2.1"/><rect x="508.4" y="435.8" width="26.4" height="17" fill="#fff" stroke="#000" stroke-width="2.1"/><rect x="511.6" y="438.6" width="20" height="12" fill="#fff" stroke="#000" stroke-width="1.8"/><path d="M 518 441.6 H 525 V 447.8 H 518 M 519.5 444.7 H 525" fill="none" stroke="#000" stroke-width="2"/><rect x="507.9" y="426" width="27.4" height="5" fill="#111"/><rect x="507.2" y="430.6" width="28.8" height="4.4" rx="2" fill="#fff" stroke="#000" stroke-width="1.4"/><rect x="509.3" y="420.6" width="4.4" height="6" rx="1.8" fill="#fff" stroke="#000" stroke-width="1.3"/><rect x="529.3" y="420.6" width="4.4" height="6" rx="1.8" fill="#fff" stroke="#000" stroke-width="1.3"/><path d="M 516.8 426.5 L 517.5 422 L 525.5 422 L 526.2 426.5 Z" fill="#fff" stroke="#000" stroke-width="1.3"/><rect x="517.1" y="412" width="8.6" height="10" fill="#fff" stroke="#000" stroke-width="1.8"/></g>
<path d="M 329.2 464 L 329.2 470 A 37.9 21 0 0 0 405 470 L 405 464 Z" fill="#fff" stroke="#000" stroke-width="1.4"/><ellipse cx="367.1" cy="464" rx="37.9" ry="20" fill="#fff" stroke="#000" stroke-width="1.4"/><path d="M 330.40 422.00 V 463.50 M 341.70 422.00 V 463.50" stroke="#000" stroke-width="1.4"/><rect x="331.12" y="422.00" width="9.85" height="41.50" fill="#fff"/><ellipse cx="336.05" cy="422.00" rx="5.65" ry="2.20" fill="#222" stroke="#000" stroke-width="1.4"/><ellipse cx="336.05" cy="422.00" rx="1.41" ry="0.77" fill="#888"/><path d="M 390.20 422.00 V 463.50 M 401.50 422.00 V 463.50" stroke="#000" stroke-width="1.4"/><rect x="390.93" y="422.00" width="9.85" height="41.50" fill="#fff"/><ellipse cx="395.85" cy="422.00" rx="5.65" ry="2.20" fill="#222" stroke="#000" stroke-width="1.4"/><ellipse cx="395.85" cy="422.00" rx="1.41" ry="0.77" fill="#888"/><ellipse cx="366.5" cy="445" rx="33" ry="14" fill="#fff" stroke="#000" stroke-width="1.4"/><path d="M 342.70 415.00 V 428.98 Q 342.70 433.50 348.35 433.50 Q 354.00 433.50 354.00 428.98 V 415.00" fill="#fff" stroke="#000" stroke-width="1.45"/><ellipse cx="348.35" cy="415.00" rx="5.65" ry="2.20" fill="#222" stroke="#000" stroke-width="1.4"/><ellipse cx="348.35" cy="415.00" rx="1.41" ry="0.77" fill="#888"/><path d="M 377.70 414.50 V 429.02 Q 377.70 433.50 383.30 433.50 Q 388.90 433.50 388.90 429.02 V 414.50" fill="#fff" stroke="#000" stroke-width="1.45"/><ellipse cx="383.30" cy="414.50" rx="5.60" ry="2.20" fill="#222" stroke="#000" stroke-width="1.4"/><ellipse cx="383.30" cy="414.50" rx="1.40" ry="0.77" fill="#888"/><path d="M 359.80 415.70 V 433.24 Q 359.80 438.00 365.75 438.00 Q 371.70 438.00 371.70 433.24 V 415.70" fill="#fff" stroke="#000" stroke-width="1.45"/><ellipse cx="365.75" cy="415.70" rx="5.95" ry="2.20" fill="#222" stroke="#000" stroke-width="1.4"/><ellipse cx="365.75" cy="415.70" rx="1.49" ry="0.77" fill="#888"/><path d="M 333.5 445 A 33 14 0 0 0 399.5 445 L 399.5 467 A 33 11 0 0 1 333.5 467 Z" fill="#fff" stroke="#000" stroke-width="1.4"/><path d="M 347.70 435.50 V 476.20 Q 347.70 481.00 353.70 481.00 Q 359.70 481.00 359.70 476.20 V 435.50" fill="#fff" stroke="#000" stroke-width="1.45"/><ellipse cx="353.70" cy="435.50" rx="6.00" ry="2.20" fill="#222" stroke="#000" stroke-width="1.4"/><ellipse cx="353.70" cy="435.50" rx="1.50" ry="0.77" fill="#888"/><path d="M 371.70 435.50 V 476.16 Q 371.70 481.00 377.75 481.00 Q 383.80 481.00 383.80 476.16 V 435.50" fill="#fff" stroke="#000" stroke-width="1.45"/><ellipse cx="377.75" cy="435.50" rx="6.05" ry="2.20" fill="#222" stroke="#000" stroke-width="1.4"/><ellipse cx="377.75" cy="435.50" rx="1.51" ry="0.77" fill="#888"/>
<g transform="translate(66,332) scale(0.664) translate(-328.3,-414.2)"><path d="M 329.2 464 L 329.2 470 A 37.9 21 0 0 0 405 470 L 405 464 Z" fill="#fff" stroke="#000" stroke-width="2.1"/><ellipse cx="367.1" cy="464" rx="37.9" ry="20" fill="#fff" stroke="#000" stroke-width="2.1"/><path d="M 330.40 422.00 V 463.50 M 341.70 422.00 V 463.50" stroke="#000" stroke-width="2.1"/><rect x="331.45" y="422.00" width="9.20" height="41.50" fill="#fff"/><ellipse cx="336.05" cy="422.00" rx="5.65" ry="2.20" fill="#222" stroke="#000" stroke-width="2.1"/><ellipse cx="336.05" cy="422.00" rx="1.41" ry="0.77" fill="#888"/><path d="M 390.20 422.00 V 463.50 M 401.50 422.00 V 463.50" stroke="#000" stroke-width="2.1"/><rect x="391.25" y="422.00" width="9.20" height="41.50" fill="#fff"/><ellipse cx="395.85" cy="422.00" rx="5.65" ry="2.20" fill="#222" stroke="#000" stroke-width="2.1"/><ellipse cx="395.85" cy="422.00" rx="1.41" ry="0.77" fill="#888"/><ellipse cx="366.5" cy="445" rx="33" ry="14" fill="#fff" stroke="#000" stroke-width="2.1"/><path d="M 342.70 415.00 V 428.98 Q 342.70 433.50 348.35 433.50 Q 354.00 433.50 354.00 428.98 V 415.00" fill="#fff" stroke="#000" stroke-width="2.10"/><ellipse cx="348.35" cy="415.00" rx="5.65" ry="2.20" fill="#222" stroke="#000" stroke-width="2.1"/><ellipse cx="348.35" cy="415.00" rx="1.41" ry="0.77" fill="#888"/><path d="M 377.70 414.50 V 429.02 Q 377.70 433.50 383.30 433.50 Q 388.90 433.50 388.90 429.02 V 414.50" fill="#fff" stroke="#000" stroke-width="2.10"/><ellipse cx="383.30" cy="414.50" rx="5.60" ry="2.20" fill="#222" stroke="#000" stroke-width="2.1"/><ellipse cx="383.30" cy="414.50" rx="1.40" ry="0.77" fill="#888"/><path d="M 359.80 415.70 V 433.24 Q 359.80 438.00 365.75 438.00 Q 371.70 438.00 371.70 433.24 V 415.70" fill="#fff" stroke="#000" stroke-width="2.10"/><ellipse cx="365.75" cy="415.70" rx="5.95" ry="2.20" fill="#222" stroke="#000" stroke-width="2.1"/><ellipse cx="365.75" cy="415.70" rx="1.49" ry="0.77" fill="#888"/><path d="M 333.5 445 A 33 14 0 0 0 399.5 445 L 399.5 467 A 33 11 0 0 1 333.5 467 Z" fill="#fff" stroke="#000" stroke-width="2.1"/><path d="M 347.70 435.50 V 476.20 Q 347.70 481.00 353.70 481.00 Q 359.70 481.00 359.70 476.20 V 435.50" fill="#fff" stroke="#000" stroke-width="2.10"/><ellipse cx="353.70" cy="435.50" rx="6.00" ry="2.20" fill="#222" stroke="#000" stroke-width="2.1"/><ellipse cx="353.70" cy="435.50" rx="1.50" ry="0.77" fill="#888"/><path d="M 371.70 435.50 V 476.16 Q 371.70 481.00 377.75 481.00 Q 383.80 481.00 383.80 476.16 V 435.50" fill="#fff" stroke="#000" stroke-width="2.10"/><ellipse cx="377.75" cy="435.50" rx="6.05" ry="2.20" fill="#222" stroke="#000" stroke-width="2.1"/><ellipse cx="377.75" cy="435.50" rx="1.51" ry="0.77" fill="#888"/></g>
<g transform="translate(250.5,411.5) rotate(41)"><rect x="-9.5" y="80" width="19" height="29" rx="3" fill="#000"/><rect x="-6" y="105" width="12" height="6" rx="2" fill="#000"/><path d="M -6 88 L -6 104 M 6 90 L 6 102" stroke="#555" stroke-width="0.8"/><rect x="-13.5" y="63" width="27" height="19" rx="2" fill="#000"/><rect x="-6" y="70" width="9" height="8.5" fill="#fff"/><rect x="-10" y="64.2" width="15" height="2.6" rx="1.2" fill="#fff"/><rect x="8.5" y="72" width="2" height="5" rx="1" fill="#fff"/><rect x="-8.5" y="17" width="17" height="39" rx="2" fill="#fff" stroke="#000" stroke-width="2.2"/><path d="M -4.8 21.5 L 5.6 21.5" fill="none" stroke="#000" stroke-width="2.1" stroke-linecap="round"/><path d="M -4.8 26.3 L 5.6 26.3" fill="none" stroke="#000" stroke-width="2.1" stroke-linecap="round"/><path d="M -4.8 31.1 L 5.6 31.1" fill="none" stroke="#000" stroke-width="2.1" stroke-linecap="round"/><path d="M -4.8 35.9 L 5.6 35.9" fill="none" stroke="#000" stroke-width="2.1" stroke-linecap="round"/><path d="M -4.8 40.7 L 5.6 40.7" fill="none" stroke="#000" stroke-width="2.1" stroke-linecap="round"/><path d="M -4.8 45.5 L 5.6 45.5" fill="none" stroke="#000" stroke-width="2.1" stroke-linecap="round"/><path d="M -7.5 49.5 L 7.5 49.5" stroke="#000" stroke-width="1.4"/><rect x="-16.5" y="53.5" width="33" height="10" rx="4.5" fill="#000"/><ellipse cx="-12" cy="58" rx="3.2" ry="2" fill="#fff"/><ellipse cx="12.2" cy="59.3" rx="2.6" ry="2" fill="#fff"/><path d="M -8 18 L -4 12 L 4 12 L 8 18 Z" fill="#000"/><rect x="-3.5" y="1" width="7" height="13" rx="3.5" fill="#fff" stroke="#000" stroke-width="2.2"/></g>
<rect x="196.10" y="539.20" width="31" height="6.6" rx="3.2" fill="#fff" stroke="#000" stroke-width="1.5"/><rect x="196.10" y="546.90" width="31" height="6.6" rx="3.2" fill="#fff" stroke="#000" stroke-width="1.5"/><rect x="196.10" y="553.90" width="31" height="6.6" rx="3.2" fill="#fff" stroke="#000" stroke-width="1.5"/><path d="M 206.50 508.3 L 218.70 508.3 L 221.90 513 L 221.90 518 L 221.00 523.8 L 220.40 527.6 L 204.80 527.6 L 204.20 523.8 L 203.30 518 L 203.30 513 Z" fill="#111"/><rect x="204.10" y="514.6" width="17" height="2.1" rx="1" fill="#fff"/><rect x="205.80" y="524.1" width="13.6" height="2.1" fill="#fff"/><rect x="202.10" y="528" width="19.60" height="10.6" fill="#fff" stroke="#000" stroke-width="1.4"/>
<path d="M 355.90 538.2 L 378.30 538.2 L 382.90 558 Q 383.10 560.5 380.60 560.5 L 353.60 560.5 Q 351.10 560.5 351.30 558 Z" fill="#000"/><path d="M 361.10 508.3 L 373.30 508.3 L 376.50 513 L 376.50 518 L 375.60 523.8 L 375.00 527.6 L 359.40 527.6 L 358.80 523.8 L 357.90 518 L 357.90 513 Z" fill="#111"/><rect x="358.70" y="514.6" width="17" height="2.1" rx="1" fill="#fff"/><rect x="360.40" y="524.1" width="13.6" height="2.1" fill="#fff"/><rect x="357.40" y="528" width="19.60" height="10.6" fill="#fff" stroke="#000" stroke-width="1.4"/>
<path d="M 509.80 538.2 L 532.20 538.2 L 536.80 558 Q 537.00 560.5 534.50 560.5 L 507.50 560.5 Q 505.00 560.5 505.20 558 Z" fill="#000"/><path d="M 515.20 508.3 L 527.40 508.3 L 530.60 513 L 530.60 518 L 529.70 523.8 L 529.10 527.6 L 513.50 527.6 L 512.90 523.8 L 512.00 518 L 512.00 513 Z" fill="#111"/><rect x="512.80" y="514.6" width="17" height="2.1" rx="1" fill="#fff"/><rect x="514.50" y="524.1" width="13.6" height="2.1" fill="#fff"/><rect x="511.50" y="528" width="19.60" height="10.6" fill="#fff" stroke="#000" stroke-width="1.4"/></svg>
</body></html>
